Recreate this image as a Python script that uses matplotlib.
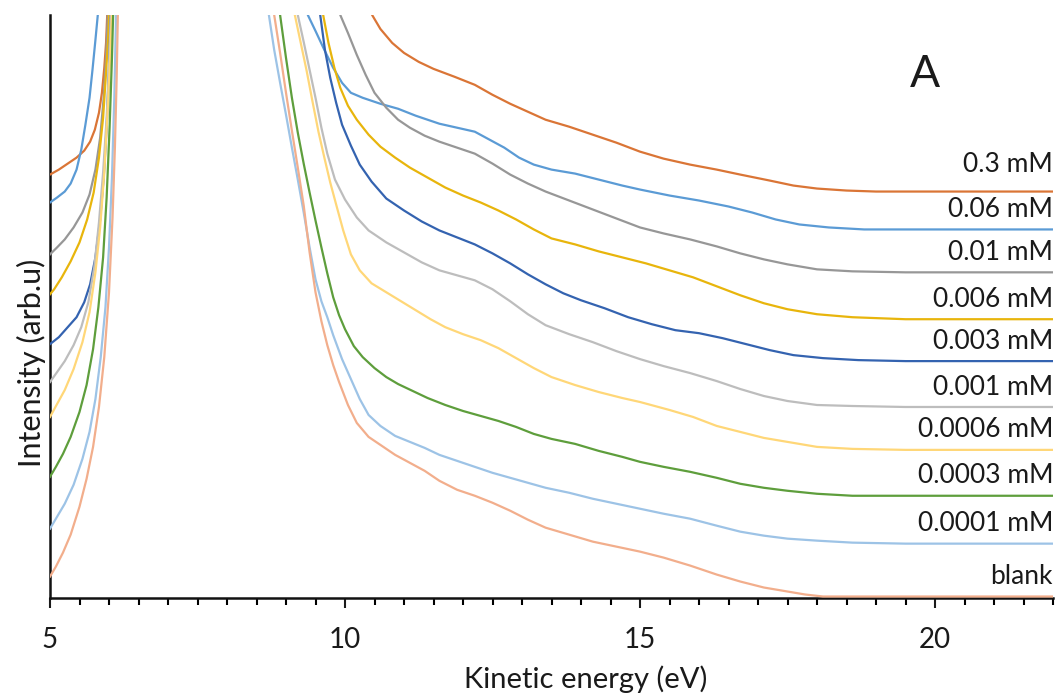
import matplotlib
matplotlib.use("Agg")
import matplotlib.pyplot as plt
from matplotlib.ticker import MultipleLocator

plt.rcParams['font.family'] = ['Lato', 'DejaVu Sans']

# concentration labels, top trace first
labels = ["0.3 mM", "0.06 mM", "0.01 mM", "0.006 mM", "0.003 mM",
          "0.001 mM", "0.0006 mM", "0.0003 mM", "0.0001 mM", "blank"]
colors = ["#DA7536", "#5B9BD5", "#979797", "#E8B50C", "#3463B0",
          "#BDBDBD", "#FFD778", "#5E9E3C", "#9DC3E6", "#F2AE8C"]

# kinetic energy (eV) and intensity (arb. u.) for each trace;
# the secondary electron peak near 7.3 eV runs far off scale
e_03 = [5.00, 5.15, 5.30, 5.45, 5.58, 5.68, 5.76, 5.83, 5.88, 5.92, 5.95, 5.97, 7.3,
        10.46, 10.6, 10.8, 11.0, 11.25, 11.5, 11.86, 12.2, 12.5, 12.8, 13.1, 13.4, 13.8,
        14.2, 14.6, 15.0, 15.4, 15.85, 16.3, 16.7, 17.2, 17.6, 18.0, 18.5, 19.0, 19.75, 22.0]
i_03 = [423, 428, 434, 440, 447, 456, 468, 485, 505, 530, 555, 583, 3000,
        583, 569, 555, 545, 536, 529, 521, 513, 503, 494, 486, 478, 471,
        463, 455, 446, 439, 433, 428, 423, 417, 412, 409, 407, 406, 406, 406]

e_006 = [5.00, 5.12, 5.25, 5.35, 5.45, 5.53, 5.60, 5.67, 5.72, 5.77, 5.81, 7.3,
         9.37, 9.5, 9.65, 9.8, 9.95, 10.1, 10.3, 10.6, 10.9, 11.2, 11.6, 11.9, 12.2, 12.45,
         12.7, 12.95, 13.2, 13.5, 13.9, 14.3, 14.7, 15.0, 15.5, 16.0, 16.5, 16.9, 17.3,
         17.7, 18.2, 18.8, 22.0]
i_006 = [395, 400, 406, 414, 428, 448, 473, 500, 528, 558, 583, 3000,
         583, 567, 548, 530, 515, 505, 500, 494, 489, 482, 474, 470, 466, 458,
         450, 440, 433, 428, 424, 418, 412, 408, 402, 397, 391, 385, 378,
         373, 370, 368, 368]

e_001 = [5.00, 5.12, 5.25, 5.40, 5.55, 5.67, 5.77, 5.85, 5.91, 5.95, 5.98, 7.3,
         9.92, 10.05, 10.2, 10.35, 10.5, 10.7, 10.9, 11.1, 11.35, 11.6, 11.9, 12.2, 12.5,
         12.8, 13.1, 13.4, 13.8, 14.2, 14.6, 15.0, 15.4, 15.85, 16.3, 16.7, 17.1, 17.5,
         18.0, 18.6, 19.5, 22.0]
i_001 = [343, 350, 358, 370, 385, 403, 428, 460, 500, 540, 583, 3000,
         583, 565, 543, 523, 505, 490, 478, 470, 462, 456, 450, 444, 434,
         423, 414, 406, 397, 388, 379, 370, 364, 358, 351, 344, 338, 333,
         328, 326, 325, 325]

e_0006 = [5.00, 5.07, 5.20, 5.35, 5.50, 5.63, 5.74, 5.83, 5.90, 5.95, 5.99, 6.00, 7.3,
          9.63, 9.72, 9.82, 9.92, 10.05, 10.2, 10.4, 10.6, 10.85, 11.1, 11.4, 11.7, 12.0,
          12.3, 12.6, 12.9, 13.2, 13.5, 13.9, 14.3, 14.7, 15.1, 15.5, 15.9, 16.3, 16.7,
          17.1, 17.5, 18.0, 18.6, 19.5, 22.0]
i_0006 = [303, 308, 320, 336, 355, 378, 405, 440, 480, 525, 565, 583, 3000,
          583, 555, 530, 510, 492, 478, 463, 451, 440, 430, 420, 410, 402,
          395, 387, 378, 368, 359, 353, 346, 340, 334, 327, 320, 311, 302,
          294, 288, 283, 280, 278, 278]

e_0003 = [5.00, 5.15, 5.30, 5.45, 5.58, 5.68, 5.77, 5.85, 5.91, 5.96, 6.00, 6.03, 7.3,
          9.58, 9.66, 9.75, 9.85, 9.95, 10.1, 10.25, 10.45, 10.7, 11.0, 11.3, 11.6, 11.9,
          12.2, 12.5, 12.8, 13.1, 13.4, 13.7, 14.0, 14.4, 14.8, 15.2, 15.6, 16.0, 16.4,
          16.8, 17.2, 17.6, 18.1, 18.7, 19.5, 22.0]
i_0003 = [253, 260, 270, 280, 295, 313, 340, 378, 420, 470, 530, 583, 3000,
          583, 548, 520, 495, 473, 452, 433, 416, 399, 387, 376, 367, 360,
          353, 344, 334, 323, 313, 304, 297, 289, 280, 273, 267, 264, 259,
          253, 247, 242, 239, 237, 236, 236]

e_0001 = [5.00, 5.12, 5.25, 5.40, 5.53, 5.65, 5.75, 5.83, 5.90, 5.96, 6.01, 6.03, 7.3,
          9.20, 9.3, 9.4, 9.5, 9.6, 9.7, 9.83, 10.0, 10.2, 10.4, 10.7, 11.0, 11.3, 11.6,
          11.9, 12.2, 12.5, 12.8, 13.1, 13.4, 13.8, 14.2, 14.6, 15.0, 15.4, 15.85, 16.3,
          16.7, 17.1, 17.5, 18.0, 18.6, 19.5, 22.0]
i_0001 = [215, 225, 236, 252, 270, 295, 330, 375, 425, 480, 545, 583, 3000,
          583, 556, 528, 500, 470, 444, 418, 398, 380, 367, 355, 345, 335, 327,
          322, 317, 308, 296, 283, 272, 263, 255, 246, 238, 231, 224, 216,
          208, 201, 196, 192, 191, 190, 190]

e_00006 = [5.00, 5.12, 5.25, 5.40, 5.55, 5.67, 5.77, 5.85, 5.92, 5.98, 6.03, 6.05, 7.3,
           9.15, 9.25, 9.35, 9.45, 9.55, 9.65, 9.75, 9.85, 9.97, 10.1, 10.25, 10.45, 10.7,
           10.95, 11.2, 11.45, 11.7, 12.0, 12.3, 12.6, 12.9, 13.2, 13.5, 13.9, 14.3, 14.7,
           15.0, 15.5, 15.9, 16.3, 16.7, 17.1, 17.5, 18.0, 18.6, 19.5, 22.0]
i_00006 = [180, 193, 207, 228, 255, 285, 325, 370, 425, 490, 555, 583, 3000,
           583, 555, 527, 496, 466, 440, 415, 393, 367, 343, 327, 314, 305,
           296, 287, 278, 270, 263, 257, 249, 239, 229, 220, 212, 205, 199,
           195, 187, 180, 171, 165, 159, 155, 150, 148, 147, 147]

e_00003 = [5.00, 5.10, 5.22, 5.35, 5.50, 5.62, 5.73, 5.82, 5.90, 5.96, 6.01, 6.05, 6.07, 7.3,
           8.90, 9.0, 9.1, 9.2, 9.3, 9.4, 9.5, 9.6, 9.7, 9.8, 9.9, 10.0, 10.15, 10.3, 10.5,
           10.7, 10.9, 11.15, 11.4, 11.7, 12.0, 12.3, 12.6, 12.9, 13.2, 13.5, 13.9, 14.3,
           14.7, 15.0, 15.4, 15.85, 16.3, 16.7, 17.1, 17.5, 18.0, 18.6, 22.0]
i_00003 = [120, 130, 143, 160, 185, 212, 248, 290, 340, 400, 470, 540, 583, 3000,
           583, 540, 500, 465, 434, 405, 377, 350, 324, 300, 282, 268, 251, 240, 229,
           220, 213, 206, 199, 192, 186, 181, 176, 170, 163, 158, 153, 146,
           140, 135, 130, 125, 119, 113, 109, 106, 103, 101, 101]

e_00001 = [5.00, 5.12, 5.25, 5.40, 5.55, 5.67, 5.77, 5.86, 5.94, 6.00, 6.05, 6.09, 6.12, 7.3,
           8.71, 8.8, 8.9, 9.0, 9.1, 9.2, 9.3, 9.4, 9.5, 9.6, 9.7, 9.8, 9.95, 10.1, 10.25,
           10.4, 10.6, 10.85, 11.1, 11.35, 11.6, 11.9, 12.2, 12.5, 12.8, 13.1, 13.4, 13.8,
           14.2, 14.6, 15.0, 15.4, 15.85, 16.3, 16.7, 17.1, 17.5, 18.0, 18.6, 19.5, 22.0]
i_00001 = [68, 80, 93, 112, 138, 165, 198, 240, 290, 350, 420, 500, 583, 3000,
           583, 548, 515, 483, 450, 418, 385, 350, 318, 296, 280, 262, 238, 218, 198,
           182, 171, 161, 155, 149, 142, 136, 130, 124, 119, 114, 109, 104,
           98, 93, 88, 83, 78, 71, 65, 61, 58, 56, 54, 53, 53]

e_blank = [5.00, 5.10, 5.22, 5.35, 5.50, 5.62, 5.73, 5.83, 5.92, 6.00, 6.06, 6.10, 6.13, 6.15, 7.3,
           8.80, 8.9, 9.0, 9.1, 9.2, 9.3, 9.4, 9.5, 9.6, 9.7, 9.8, 9.9, 10.05, 10.2, 10.4,
           10.6, 10.85, 11.1, 11.35, 11.6, 11.9, 12.2, 12.5, 12.8, 13.1, 13.4, 13.8, 14.2,
           14.6, 15.0, 15.4, 15.85, 16.3, 16.7, 17.1, 17.5, 17.8, 18.1, 22.0]
i_blank = [20, 30, 44, 62, 90, 118, 150, 190, 240, 305, 380, 450, 520, 583, 3000,
           583, 545, 505, 467, 430, 392, 345, 305, 276, 252, 232, 215, 192, 174, 160,
           152, 142, 134, 126, 116, 107, 101, 94, 86, 77, 69, 62, 55,
           50, 45, 39, 31, 22, 15, 9, 5, 2, 0, 0]

energies = [e_03, e_006, e_001, e_0006, e_0003, e_0001, e_00006, e_00003, e_00001, e_blank]
intensities = [i_03, i_006, i_001, i_0006, i_0003, i_0001, i_00006, i_00003, i_00001, i_blank]

fig = plt.figure(figsize=(10.55, 6.93), dpi=100)
ax = fig.add_axes([50 / 1055, 95 / 693, 1003 / 1055, 583 / 693])

for e, i, c in zip(energies, intensities, colors):
    ax.plot(e, i, color=c, lw=1.6, zorder=3, solid_joinstyle='round')

# concentration tags sit just above the flat tail of each trace
for k, (lab, i) in enumerate(zip(labels, intensities)):
    dy = 27 if k == 0 else 20
    ax.text(22, i[-1] + dy, lab, ha='right', va='center', fontsize=19, color='#1a1a1a')

ax.text(19.83, 523, "A", ha='center', va='center', fontsize=32, color='#1a1a1a')

ax.set_xlim(5, 22)
ax.set_ylim(-1.5, 583)
ax.set_xticks([5, 10, 15, 20])
ax.xaxis.set_minor_locator(MultipleLocator(0.5))
ax.set_yticks([])
ax.tick_params(axis='x', which='major', direction='out', length=7, width=1.5,
               labelsize=20, pad=14, colors='#1a1a1a')
ax.tick_params(axis='x', which='minor', direction='out', length=5, width=1.5)
for s in ['top', 'right']:
    ax.spines[s].set_visible(False)
for s in ['left', 'bottom']:
    ax.spines[s].set_linewidth(1.8)
    ax.spines[s].set_color('#111111')

ax.set_xlabel("Kinetic energy (eV)", fontsize=21, color='#1a1a1a')
ax.set_ylabel("Intensity (arb.u)", fontsize=22, color='#1a1a1a')
ax.xaxis.set_label_coords(0.534, -0.115)
ax.yaxis.set_label_coords(-0.004, 0.403)

fig.savefig("out.png", dpi=100)
